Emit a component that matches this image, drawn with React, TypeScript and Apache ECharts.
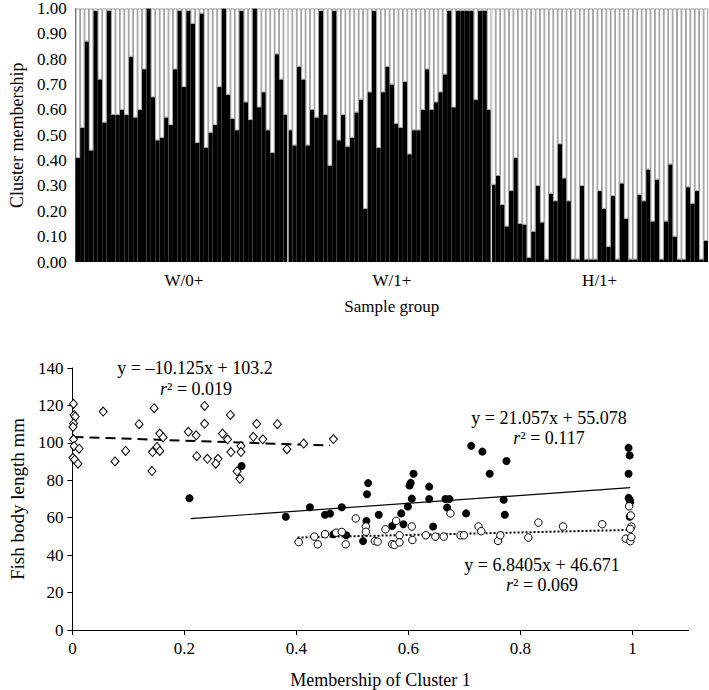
import React, { useEffect, useRef } from "react";
import * as echarts from "echarts";

// ---------- Top panel: cluster membership per individual ----------
const groupNames = ["W/0+", "W/1+", "H/1+"];
const membershipW0 = [
  0.41, 0.53, 0.87, 0.44, 0.99, 0.72, 0.55, 0.99, 0.58, 0.58, 0.6, 0.58, 0.81, 0.57, 0.6, 0.76,
  1.0, 0.65, 0.48, 0.49, 0.57, 0.54, 0.76, 0.99, 0.69, 0.99, 0.94, 0.47, 0.98, 0.45, 0.51, 0.54,
  0.69, 1.0, 0.66, 0.565, 0.52, 0.99, 0.63, 0.56, 1.0, 0.61, 0.67, 0.52, 0.43, 0.82, 0.72, 0.58,
];
const membershipW1 = [
  0.52, 0.46, 0.77, 0.72, 0.46, 0.6, 0.57, 0.99, 0.58, 0.38, 0.99, 0.48, 0.58, 0.455, 0.49, 0.59,
  0.64, 0.21, 0.67, 0.99, 0.45, 0.67, 0.77, 0.7, 0.545, 0.53, 0.71, 0.425, 0.52, 0.52, 0.6, 0.76,
  0.6, 0.63, 0.67, 0.74, 0.99, 0.61, 0.99, 0.99, 0.99, 0.99, 0.64, 0.99, 0.99, 0.6,
];
const membershipH1 = [
  0.305, 0.34, 0.225, 0.14, 0.28, 0.41, 0.15, 0.147, 0.017, 0.12, 0.3, 0.156, 0.01, 0.27, 0.24,
  0.465, 0.33, 0.24, 0.01, 0.01, 0.3, 0.01, 0.01, 0.01, 0.28, 0.21, 0.06, 0.26, 0.01, 0.31, 0.17,
  0.01, 0.01, 0.265, 0.24, 0.365, 0.16, 0.325, 0.01, 0.16, 0.385, 0.1, 0.01, 0.01, 0.295, 0.23,
  0.28, 0.01, 0.083,
];

// ---------- Bottom panel: body length vs membership ----------
const diamondPoints = [
  [0.002, 120.8], [0.003, 114.9], [0.005, 114], [0.002, 110.4], [0.001, 108.5], [0.002, 101.9],
  [0.003, 98.2], [0.012, 96.9], [0.001, 92], [0.004, 91], [0.01, 88.9], [0.055, 116.7],
  [0.076, 90.1], [0.095, 95.7], [0.119, 110], [0.146, 118.5], [0.142, 84.9], [0.143, 95.1],
  [0.151, 97.8], [0.156, 95.7], [0.156, 105], [0.162, 102.9], [0.207, 105.9], [0.221, 104],
  [0.222, 92.9], [0.236, 119.7], [0.236, 110.2], [0.241, 91.5], [0.26, 91.5], [0.256, 88.9],
  [0.268, 105], [0.277, 101.9], [0.282, 114.9], [0.283, 95.1], [0.294, 84.8], [0.299, 80.8],
  [0.301, 98.3], [0.301, 95.1], [0.323, 103.2], [0.329, 110.2], [0.34, 101.9], [0.366, 110],
  [0.383, 96.6], [0.413, 99.6], [0.466, 102],
];
const filledPoints = [
  [0.209, 70.4], [0.302, 87.6], [0.381, 60.5], [0.424, 65.6], [0.451, 61.6], [0.46, 62.2],
  [0.466, 51.2], [0.481, 65.6], [0.489, 50.6], [0.519, 47.5], [0.525, 58.2], [0.526, 72.5],
  [0.528, 78.5], [0.547, 61.6], [0.571, 55.6], [0.587, 62.3], [0.591, 56.5], [0.599, 66],
  [0.602, 77.2], [0.604, 78.6], [0.606, 70.2], [0.609, 83.5], [0.637, 76.6], [0.637, 70],
  [0.644, 55.3], [0.666, 70], [0.669, 65.5], [0.673, 70], [0.703, 62.3], [0.712, 98.4],
  [0.732, 95.3], [0.745, 83.5], [0.77, 69.6], [0.772, 61.6], [0.775, 90.3], [0.993, 97.3],
  [0.995, 93.3], [0.993, 83.5], [0.993, 70.6], [0.995, 69.6], [0.996, 68.4], [0.995, 60.5],
];
const openPoints = [
  [0.404, 47], [0.432, 49.9], [0.438, 45.8], [0.451, 51.2], [0.471, 52], [0.481, 52.4],
  [0.488, 45.8], [0.506, 59.6], [0.524, 55.3], [0.524, 52.5], [0.54, 47.5], [0.545, 47.2],
  [0.559, 53.8], [0.571, 45.8], [0.575, 45.5], [0.578, 58.3], [0.584, 50.6], [0.584, 46.8],
  [0.606, 55.3], [0.607, 48.1], [0.631, 50.6], [0.648, 49.9], [0.663, 49.9], [0.675, 62.3],
  [0.693, 50.6], [0.699, 50.6], [0.725, 55.3], [0.73, 52.8], [0.76, 47.6], [0.764, 50.6],
  [0.814, 49.4], [0.832, 57.4], [0.876, 55.3], [0.946, 56.5], [0.988, 48.8], [0.996, 47.5],
  [0.994, 66.1], [0.997, 61.2], [0.998, 55.3], [0.996, 54], [0.998, 49.6],
];
// Trend lines as printed on the chart: slope, intercept, x-range
const trendDiamond = { slope: -10.125, intercept: 103.2, from: 0.002, to: 0.46 };
const trendFilled = { slope: 21.057, intercept: 55.078, from: 0.211, to: 0.996 };
const trendOpen = { slope: 6.8405, intercept: 46.671, from: 0.402, to: 1.0 };
const bottomXTicks = [0, 0.2, 0.4, 0.6, 0.8, 1];

const FONT = '"Liberation Serif", "Times New Roman", serif';

function trendData(t: { slope: number; intercept: number; from: number; to: number }) {
  return [t.from, t.to].map((x) => [x, t.slope * x + t.intercept]);
}

function buildOption() {
  const all = [...membershipW0, ...membershipW1, ...membershipH1];
  const sizes = [membershipW0.length, membershipW1.length, membershipH1.length];
  const categories = all.map((_, i) => `ind${i + 1}`);
  const labelAt: Record<number, string> = {};
  const boundaries: number[] = [];
  let start = 0;
  sizes.forEach((n, g) => {
    labelAt[start + Math.floor(n / 2)] = groupNames[g];
    start += n;
    if (g < sizes.length - 1) boundaries.push(start);
  });

  const axisText = { fontFamily: FONT, color: "#000" };

  const separatorSeries = boundaries.map((b) => ({
    type: "line",
    xAxisIndex: 1,
    yAxisIndex: 0,
    data: [[b, 0], [b, 1]],
    symbol: "none",
    silent: true,
    z: 10,
    lineStyle: { color: "#d0d0d0", width: 1.5 },
  }));

  return {
    animation: false,
    backgroundColor: "#fff",
    grid: [
      { left: 72, top: 5, width: 636, height: 257 },
      { left: 66.5, top: 368, width: 622, height: 263 },
    ],
    xAxis: [
      {
        type: "category",
        gridIndex: 0,
        data: categories,
        axisLine: { show: false },
        axisTick: { show: false },
        axisLabel: {
          interval: (i: number) => labelAt[i] !== undefined,
          formatter: (_v: string, i: number) => labelAt[i] ?? "",
          ...axisText,
          fontSize: 17,
          margin: 10,
        },
        name: "Sample group",
        nameLocation: "middle",
        nameGap: 36,
        nameTextStyle: { ...axisText, fontSize: 17 },
      },
      { type: "value", gridIndex: 0, min: 0, max: all.length, show: false },
      {
        type: "value",
        gridIndex: 1,
        min: 0,
        max: 1.1,
        interval: 0.2,
        splitLine: { show: false },
        axisLine: { lineStyle: { color: "#000", width: 1 } },
        axisTick: { length: 5, lineStyle: { color: "#000" }, customValues: bottomXTicks },
        axisLabel: {
          customValues: bottomXTicks,
          formatter: (v: number) => (v > 1.05 ? "" : String(Math.round(v * 10) / 10)),
          ...axisText,
          fontSize: 17,
          margin: 10,
        },
        name: "Membership of Cluster 1",
        nameLocation: "middle",
        nameGap: 41,
        nameTextStyle: { ...axisText, fontSize: 18 },
      },
    ],
    yAxis: [
      {
        type: "value",
        gridIndex: 0,
        min: 0,
        max: 1,
        interval: 0.1,
        splitLine: { show: false },
        axisLine: { show: true, lineStyle: { color: "#666" } },
        axisTick: { show: false },
        axisLabel: { formatter: (v: number) => v.toFixed(2), ...axisText, fontSize: 17, margin: 9 },
        name: "Cluster membership",
        nameLocation: "middle",
        nameGap: 48,
        nameTextStyle: { ...axisText, fontSize: 18 },
      },
      {
        type: "value",
        gridIndex: 1,
        min: 0,
        max: 140,
        interval: 20,
        splitLine: { show: false },
        axisLine: { show: true, lineStyle: { color: "#000" } },
        axisTick: { show: true, length: 5, lineStyle: { color: "#000" } },
        axisLabel: { ...axisText, fontSize: 17, margin: 9 },
        name: "Fish body length mm",
        nameLocation: "middle",
        nameGap: 43,
        nameTextStyle: { ...axisText, fontSize: 19 },
      },
    ],
    series: [
      {
        name: "Cluster 1",
        type: "bar",
        xAxisIndex: 0,
        yAxisIndex: 0,
        stack: "m",
        barCategoryGap: "0%",
        data: all,
        itemStyle: { color: "#000" },
      },
      {
        name: "Cluster 2",
        type: "bar",
        xAxisIndex: 0,
        yAxisIndex: 0,
        stack: "m",
        barCategoryGap: "0%",
        data: all.map((v) => +(1 - v).toFixed(4)),
        itemStyle: { color: "#fff", borderColor: "#8a8a8a", borderWidth: 0.8 },
      },
      ...separatorSeries,
      {
        name: "trend W",
        type: "line",
        xAxisIndex: 2,
        yAxisIndex: 1,
        data: trendData(trendDiamond),
        symbol: "none",
        lineStyle: { color: "#000", width: 2, type: [10, 6] },
        z: 3,
      },
      {
        name: "trend filled",
        type: "line",
        xAxisIndex: 2,
        yAxisIndex: 1,
        data: trendData(trendFilled),
        symbol: "none",
        lineStyle: { color: "#000", width: 1.2 },
        z: 3,
      },
      {
        name: "trend open",
        type: "line",
        xAxisIndex: 2,
        yAxisIndex: 1,
        data: trendData(trendOpen),
        symbol: "none",
        lineStyle: { color: "#000", width: 2, type: [2, 2] },
        z: 3,
      },
      {
        name: "diamonds",
        type: "scatter",
        xAxisIndex: 2,
        yAxisIndex: 1,
        data: diamondPoints,
        symbol: "diamond",
        symbolSize: [8, 9],
        itemStyle: { color: "#fff", borderColor: "#000", borderWidth: 1, opacity: 1 },
        z: 4,
      },
      {
        name: "filled",
        type: "scatter",
        xAxisIndex: 2,
        yAxisIndex: 1,
        data: filledPoints,
        symbol: "circle",
        symbolSize: 8,
        itemStyle: { color: "#000", opacity: 1 },
        z: 4,
      },
      {
        name: "open",
        type: "scatter",
        xAxisIndex: 2,
        yAxisIndex: 1,
        data: openPoints,
        symbol: "circle",
        symbolSize: 7.5,
        itemStyle: { color: "#fff", borderColor: "#000", borderWidth: 1, opacity: 1 },
        z: 4,
      },
    ],
    graphic: [
      eq(195, 368, "y = \u201310.125x + 103.2"),
      r2(196, 389, "0.019"),
      eq(549, 418, "y = 21.057x + 55.078"),
      r2(549, 438, "0.117"),
      eq(542, 565, "y = 6.8405x + 46.671"),
      r2(542, 585, "0.069"),
    ],
  };
}

function eq(x: number, y: number, text: string) {
  return {
    type: "text",
    x,
    y,
    z: 100,
    style: {
      text,
      fill: "#000",
      fontFamily: FONT,
      fontSize: 18,
      align: "center",
      verticalAlign: "middle",
    },
  };
}

function r2(x: number, y: number, value: string) {
  return {
    type: "text",
    x,
    y,
    z: 100,
    style: {
      text: `{i|r}{n|\u00b2 = ${value}}`,
      fill: "#000",
      fontFamily: FONT,
      fontSize: 18,
      align: "center",
      verticalAlign: "middle",
      rich: {
        i: { fontFamily: FONT, fontSize: 18, fontStyle: "italic", fill: "#000" },
        n: { fontFamily: FONT, fontSize: 18, fill: "#000" },
      },
    },
  };
}

export default function App() {
  const ref = useRef<HTMLDivElement>(null);
  useEffect(() => {
    document.body.style.margin = "0";
    const chart = echarts.init(ref.current!, null, { renderer: "svg" });
    chart.setOption(buildOption() as any);
    return () => chart.dispose();
  }, []);
  return <div ref={ref} style={{ width: 709, height: 690 }} />;
}
